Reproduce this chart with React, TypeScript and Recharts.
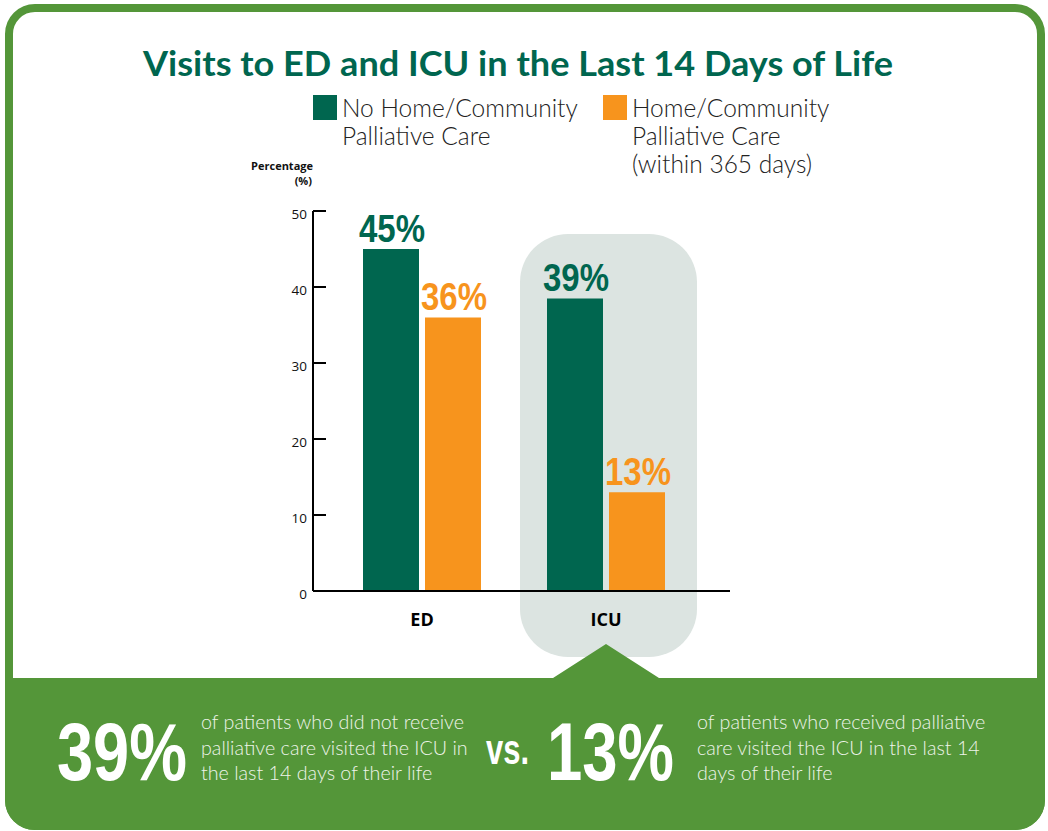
import React from 'react';
import { BarChart, Bar, XAxis, YAxis, Legend, LabelList } from 'recharts';

const categories = ['ED', 'ICU'];
const noCareValues = [45, 38.5];
const careValues = [36, 13];
const seriesNames = ['No Home/Community\nPalliative Care', 'Home/Community\nPalliative Care\n(within 365 days)'];
const yTicks = [0, 10, 20, 30, 40, 50];
const title = 'Visits to ED and ICU in the Last 14 Days of Life';
const yAxisTitle = ['Percentage', '(%)'];
const calloutLeftValue = '39%';
const calloutRightValue = '13%';
const calloutVs = 'vs.';
const calloutLeftLines = ['of patients who did not receive', 'palliative care visited the ICU in', 'the last 14 days of their life'];
const calloutRightLines = ['of patients who received palliative', 'care visited the ICU in the last 14', 'days of their life'];

const DARK_GREEN = '#00664f';
const ORANGE = '#f7941d';
const PANEL_GREEN = '#549639';
const HIGHLIGHT = '#dce4e1';
const PARA_COLOR = '#eef4ea';

const data = categories.map((category, i) => ({ category, noCare: noCareValues[i], care: careValues[i] }));

const makeLabel = (color: string) => (props: any) => {
  const { x, y, width, value } = props;
  const text = `${Math.round(Number(value))}%`;
  return (
    <text
      x={Number(x) + Number(width) / 2 + 1}
      y={Number(y) - 7.5}
      textAnchor="middle"
      fill={color}
      fontSize={39}
      fontWeight={700}
      fontFamily="'Liberation Sans', Arial, sans-serif"
      textLength={66}
      lengthAdjust="spacingAndGlyphs"
    >
      {text}
    </text>
  );
};

const YTick = (props: any) => {
  const { x, y, payload } = props;
  return (
    <g>
      <line x1={x + 8} x2={x + 21} y1={y} y2={y} stroke="#000" strokeWidth={2} />
      <text x={x + 2} y={y + 8} textAnchor="end" fontSize={13.5} fill="#111" fontFamily="'Open Sans', sans-serif">
        {payload.value}
      </text>
    </g>
  );
};

const renderLegend = (props: any) => {
  const payload = [...(props.payload || [])].sort(
    (a: any, b: any) => seriesNames.indexOf(a.value) - seriesNames.indexOf(b.value)
  );
  return (
    <div style={{ display: 'flex', flexDirection: 'row' }}>
      {payload.map((entry: any, i: number) => (
        <div key={i} style={{ display: 'flex', flexDirection: 'row', width: i === 0 ? 290 : 300 }}>
          <div style={{ width: 24, height: 25, marginTop: 1, background: entry.color, flex: '0 0 auto' }} />
          <div
            style={{
              marginLeft: 5,
              whiteSpace: 'pre-line',
              fontFamily: "Lato, 'Open Sans', sans-serif",
              fontWeight: 300,
              fontSize: 24.5,
              lineHeight: '28px',
              color: '#222',
              textAlign: 'left',
            }}
          >
            {entry.value}
          </div>
        </div>
      ))}
    </div>
  );
};

export default function App() {
  return (
    <div style={{ position: 'absolute', left: 0, top: 0, width: 1048, height: 831, background: '#fff', overflow: 'hidden' }}>
      <svg width={1048} height={831} style={{ position: 'absolute', left: 0, top: 0 }}>
        <rect x={9} y={8} width={1032} height={818} rx={26} fill="#fff" stroke={PANEL_GREEN} strokeWidth={8} />
        <rect x={520} y={234} width={177} height={423} rx={48} fill={HIGHLIGHT} />
        <path
          d="M5 678 H553 L606 644 L659 678 H1045 V800 A30 30 0 0 1 1015 830 H35 A30 30 0 0 1 5 800 Z"
          fill={PANEL_GREEN}
        />
        <text
          x={518}
          y={76}
          textAnchor="middle"
          fontSize={35}
          fontWeight={700}
          fill={DARK_GREEN}
          fontFamily="Lato, 'Open Sans', sans-serif"
          textLength={750}
          lengthAdjust="spacingAndGlyphs"
        >
          {title}
        </text>
        <text x={313} y={170} textAnchor="end" fontSize={11} fontWeight={700} fill="#111" fontFamily="'Open Sans', sans-serif">
          {yAxisTitle[0]}
        </text>
        <text x={312} y={185} textAnchor="end" fontSize={11} fontWeight={700} fill="#111" fontFamily="'Open Sans', sans-serif">
          {yAxisTitle[1]}
        </text>
        <text x={57} y={780} fontSize={81} fontWeight={700} fill="#fff" fontFamily="'Liberation Sans', Arial, sans-serif" textLength={130} lengthAdjust="spacingAndGlyphs">
          {calloutLeftValue}
        </text>
        <text x={486} y={764} fontSize={43} fontWeight={700} fill="#fff" fontFamily="'Liberation Sans', Arial, sans-serif" textLength={43} lengthAdjust="spacingAndGlyphs">
          {calloutVs}
        </text>
        <text x={547} y={780} fontSize={81} fontWeight={700} fill="#fff" fontFamily="'Liberation Sans', Arial, sans-serif" textLength={127} lengthAdjust="spacingAndGlyphs">
          {calloutRightValue}
        </text>
        {calloutLeftLines.map((line, i) => (
          <text key={'l' + i} x={201} y={729 + i * 25.5} fontSize={19.7} fontWeight={300} fill={PARA_COLOR} fontFamily="Lato, 'Open Sans', sans-serif">
            {line}
          </text>
        ))}
        {calloutRightLines.map((line, i) => (
          <text key={'r' + i} x={697} y={729 + i * 25.5} fontSize={19.7} fontWeight={300} fill={PARA_COLOR} fontFamily="Lato, 'Open Sans', sans-serif">
            {line}
          </text>
        ))}
      </svg>
      <div style={{ position: 'absolute', left: 0, top: 0 }}>
        <BarChart
          width={1048}
          height={831}
          data={data}
          margin={{ top: 211, right: 318, bottom: 210, left: 253 }}
          barSize={56}
          barGap={6}
          style={{ fontFamily: "'Open Sans', sans-serif" }}
        >
          <XAxis
            dataKey="category"
            height={30}
            padding={{ left: 17, right: 32 }}
            tickLine={false}
            tickSize={0}
            tickMargin={22}
            axisLine={{ stroke: '#000', strokeWidth: 2 }}
            tick={{ fill: '#000', fontSize: 18, fontWeight: 700, fontFamily: "'Open Sans', sans-serif" }}
          />
          <YAxis
            width={60}
            domain={[0, 50]}
            ticks={yTicks}
            tickLine={false}
            tickSize={0}
            tickMargin={8}
            interval={0}
            axisLine={{ stroke: '#000', strokeWidth: 2 }}
            tick={<YTick />}
          />
          <Legend
            layout="horizontal"
            verticalAlign="middle"
            align="center"
            content={renderLegend}
            wrapperStyle={{ position: 'absolute', top: 94, left: 313, width: 620, height: 90 }}
          />
          <Bar dataKey="noCare" name={seriesNames[0]} fill={DARK_GREEN} isAnimationActive={false}>
            <LabelList dataKey="noCare" content={makeLabel(DARK_GREEN)} />
          </Bar>
          <Bar dataKey="care" name={seriesNames[1]} fill={ORANGE} isAnimationActive={false}>
            <LabelList dataKey="care" content={makeLabel(ORANGE)} />
          </Bar>
        </BarChart>
      </div>
    </div>
  );
}
